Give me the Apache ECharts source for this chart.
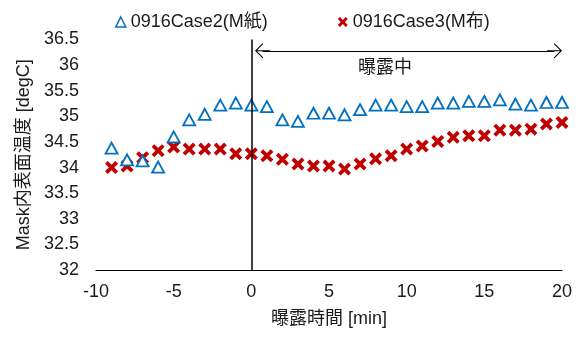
<!DOCTYPE html>
<html>
<head>
<meta charset="utf-8">
<script src="https://cdn.jsdelivr.net/npm/echarts@6/dist/echarts.min.js"></script>
<style>html,body{margin:0;padding:0;background:#fff}#c{width:584px;height:338px}</style>
</head>
<body>
<div id="c"></div>
<script>
var times = [-9,-8,-7,-6,-5,-4,-3,-2,-1,0,1,2,3,4,5,6,7,8,9,10,11,12,13,14,15,16,17,18,19,20];
var case2 = [34.38,34.15,34.13,34.01,34.60,34.93,35.04,35.22,35.26,35.22,35.19,34.93,34.90,35.06,35.06,35.03,35.13,35.22,35.22,35.19,35.19,35.26,35.26,35.29,35.29,35.32,35.24,35.22,35.27,35.27];
var case3 = [34.00,34.03,34.19,34.33,34.40,34.36,34.36,34.36,34.27,34.27,34.23,34.16,34.07,34.03,34.03,33.97,34.07,34.17,34.23,34.36,34.42,34.51,34.59,34.62,34.62,34.73,34.73,34.75,34.85,34.88];
var seriesNames = ['0916Case2(M紙)', '0916Case3(M布)'];
var xName = '曝露時間 [min]';
var yName = 'Mask内表面温度 [degC]';
var annotation = '曝露中';

var FONT = '"Liberation Sans", Arial, "Noto Sans CJK JP", sans-serif';
var TXT = '#1a1a1a';
var crossPath = 'path://M0,2.5 L2.5,0 L6,3.5 L9.5,0 L12,2.5 L8.5,6 L12,9.5 L9.5,12 L6,8.5 L2.5,12 L0,9.5 L3.5,6 Z';
var arrowPath = 'path://M50,0 L55,5 L5,55 L0,50 Z M50,0 L100,50 L95,55 L45,5 Z M46.5,4 L53.5,4 L53.5,100 L46.5,100 Z';

var chart = echarts.init(document.getElementById('c'), null, {renderer: 'canvas'});
chart.setOption({
  animation: false,
  backgroundColor: '#fff',
  textStyle: {fontFamily: FONT, color: TXT},
  grid: {left: 96, right: 22, top: 39.5, bottom: 68, containLabel: false},
  legend: {
    top: 8, left: 110, itemGap: 70, itemWidth: 10, itemHeight: 10,
    textStyle: {fontSize: 18, fontFamily: FONT, color: TXT},
    data: [
      {name: seriesNames[0], icon: 'triangle', itemStyle: {color: '#fff', borderColor: '#0070C0', borderWidth: 1.5}},
      {name: seriesNames[1], icon: crossPath, itemStyle: {color: '#C00000'}}
    ]
  },
  xAxis: {
    type: 'value', min: -10, max: 20, interval: 5,
    name: xName, nameLocation: 'middle', nameGap: 40,
    nameTextStyle: {fontSize: 18, color: TXT, fontFamily: FONT},
    axisLine: {show: true, onZero: false, lineStyle: {color: '#000', width: 1.2}},
    axisTick: {show: false},
    splitLine: {show: false},
    axisLabel: {fontSize: 18, color: TXT, margin: 13, fontFamily: FONT}
  },
  yAxis: {
    type: 'value', min: 32, max: 36.5, interval: 0.5,
    name: yName, nameLocation: 'middle', nameGap: 62,
    nameTextStyle: {fontSize: 18, color: TXT, fontFamily: FONT},
    axisLine: {show: false},
    axisTick: {show: false},
    splitLine: {show: false},
    axisLabel: {fontSize: 18, color: TXT, margin: 17, fontFamily: FONT}
  },
  series: [
    {
      name: seriesNames[0], type: 'scatter',
      symbol: 'triangle', symbolSize: [12, 11],
      itemStyle: {color: '#fff', borderColor: '#0070C0', borderWidth: 1.8, opacity: 1},
      data: times.map(function (t, i) { return [t, case2[i]]; }),
      z: 3,
      markLine: {
        silent: true, symbol: 'none', animation: false,
        label: {show: false},
        lineStyle: {color: '#000', width: 1.5, type: 'solid'},
        data: [{xAxis: 0}]
      }
    },
    {
      name: seriesNames[1], type: 'scatter',
      symbol: crossPath, symbolSize: 13,
      itemStyle: {color: '#C00000', opacity: 1},
      data: times.map(function (t, i) { return [t, case3[i]]; }),
      z: 2,
      markLine: {
        silent: true, animation: false,
        symbol: [arrowPath, arrowPath], symbolSize: [15, 15],
        label: {show: false},
        lineStyle: {color: '#000', width: 1.2, type: 'solid'},
        data: [[{coord: [0.72, 36.28]}, {coord: [19.52, 36.28]}]]
      },
      markPoint: {
        silent: true, animation: false,
        symbol: 'circle', symbolSize: 1,
        itemStyle: {color: 'rgba(0,0,0,0)'},
        label: {show: true, position: 'inside', formatter: annotation, fontSize: 18, color: TXT, fontFamily: FONT},
        data: [{coord: [8.6, 35.95]}]
      }
    }
  ]
});
</script>
</body>
</html>
